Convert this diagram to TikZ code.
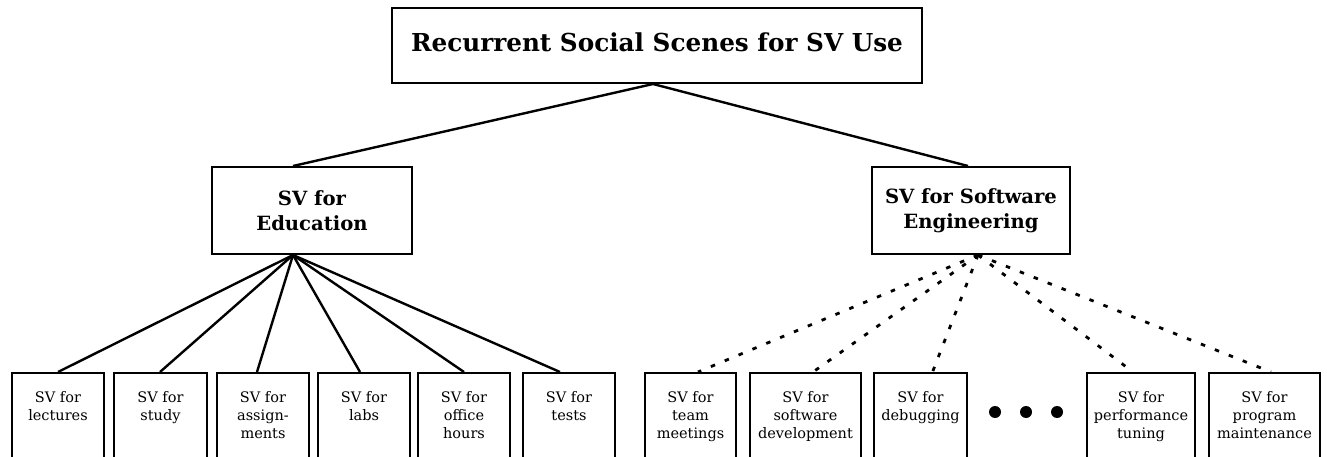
\documentclass[tikz,border=0pt]{standalone}
\usepackage{fontspec}
\setmainfont{DejaVu Serif}
\usetikzlibrary{calc}

\tikzset{
  box/.style={draw, line width=2pt, inner sep=0pt, fill=white},
  headtext/.style={font=\bfseries\fontsize{24.7}{30}\selectfont},
  midtext/.style={align=center, font=\bfseries\fontsize{19.6}{25}\selectfont},
  leafbox/.style={box, anchor=north, minimum height=130pt},
  leaftext/.style={anchor=north, align=center, inner sep=0pt,
                   font=\fontsize{14.5}{18}\selectfont},
  solidlink/.style={line width=2.4pt},
  dottedlink/.style={line width=2.8pt, dash pattern=on 4.5pt off 10.5pt},
  ellipsisdot/.style={fill, circle, inner sep=0pt, minimum size=12pt}
}

\begin{document}
\begin{tikzpicture}[x=1pt, y=-1pt]
\useasboundingbox (0,0) rectangle (1327,457);
\clip (0,0) rectangle (1327,457);

% root box and its title, set a little above the centre
\node[box, minimum width=530pt, minimum height=75pt] (root) at (657,45.5) {};
\node[headtext, inner sep=0pt] (title) at ([yshift=3pt]root.center)
  {Recurrent Social Scenes for SV Use};

% second level
\node[box, midtext, minimum width=200pt, minimum height=87pt] (edu) at (312,210.5)
  {SV for\\Education};
\node[box, midtext, minimum width=198pt, minimum height=87pt] (swe) at (971,210.5)
  {SV for Software\\Engineering};

% leaves: education
\node[leafbox, minimum width=92pt] (l1) at (58,372) {};
\node[leafbox, minimum width=93pt] (l2) at (160.5,372) {};
\node[leafbox, minimum width=92pt] (l3) at (263,372) {};
\node[leafbox, minimum width=92pt] (l4) at (364,372) {};
\node[leafbox, minimum width=92pt] (l5) at (464,372) {};
\node[leafbox, minimum width=92pt] (l6) at (569,372) {};
% leaves: software engineering
\node[leafbox, minimum width=91pt] (l7) at (690.5,372) {};
\node[leafbox, minimum width=111pt] (l8) at (805.5,372) {};
\node[leafbox, minimum width=93pt] (l9) at (920.5,372) {};
\node[leafbox, minimum width=108pt] (l10) at (1141,372) {};
\node[leafbox, minimum width=111pt] (l11) at (1264.5,372) {};

\node[leaftext] (t1) at ([yshift=-19.5pt]l1.north) {SV for\\lectures};
\node[leaftext] (t2) at ([yshift=-19.5pt]l2.north) {SV for\\study};
\node[leaftext] (t3) at ([yshift=-19.5pt]l3.north) {SV for\\assign-\\ments};
\node[leaftext] (t4) at ([yshift=-19.5pt]l4.north) {SV for\\labs};
\node[leaftext] (t5) at ([yshift=-19.5pt]l5.north) {SV for\\office\\hours};
\node[leaftext] (t6) at ([yshift=-19.5pt]l6.north) {SV for\\tests};
\node[leaftext] (t7) at ([yshift=-19.5pt]l7.north) {SV for\\team\\meetings};
\node[leaftext] (t8) at ([yshift=-19.5pt]l8.north) {SV for\\software\\development};
\node[leaftext] (t9) at ([yshift=-19.5pt]l9.north) {SV for\\debugging};
\node[leaftext] (t10) at ([yshift=-19.5pt]l10.north) {SV for\\performance\\tuning};
\node[leaftext] (t11) at ([yshift=-19.5pt]l11.north) {SV for\\program\\maintenance};

% ellipsis between debugging and performance tuning
\node[ellipsisdot] (d1) at (995,412) {};
\node[ellipsisdot] (d2) at (1026,412) {};
\node[ellipsisdot] (d3) at (1057,412) {};

% connectors from the root
\coordinate (rootjoin) at ([xshift=-4pt]root.south);
\draw[solidlink] (rootjoin) -- ([xshift=-19pt]edu.north);
\draw[solidlink] (rootjoin) -- ([xshift=-3pt]swe.north);

% education fan
\coordinate (edujoin) at ([xshift=-19pt]edu.south);
\draw[solidlink] (edujoin) -- (l1.north);
\draw[solidlink] (edujoin) -- ([xshift=-0.5pt]l2.north);
\draw[solidlink] (edujoin) -- ([xshift=-6pt]l3.north);
\draw[solidlink] (edujoin) -- ([xshift=-4pt]l4.north);
\draw[solidlink] (edujoin) -- (l5.north);
\draw[solidlink] (edujoin) -- ([xshift=-9pt]l6.north);

% software engineering fan
\coordinate (swejoin) at ([xshift=7pt]swe.south);
\draw[dottedlink] (swejoin) -- ([xshift=7.5pt]l7.north);
\draw[dottedlink] (swejoin) -- ([xshift=7.5pt]l8.north);
\draw[dottedlink] (swejoin) -- ([xshift=12pt]l9.north);
\draw[dottedlink] (swejoin) -- ([xshift=-8pt]l10.north);
\draw[dottedlink] (swejoin) -- ([xshift=6.5pt]l11.north);
\end{tikzpicture}
\end{document}
